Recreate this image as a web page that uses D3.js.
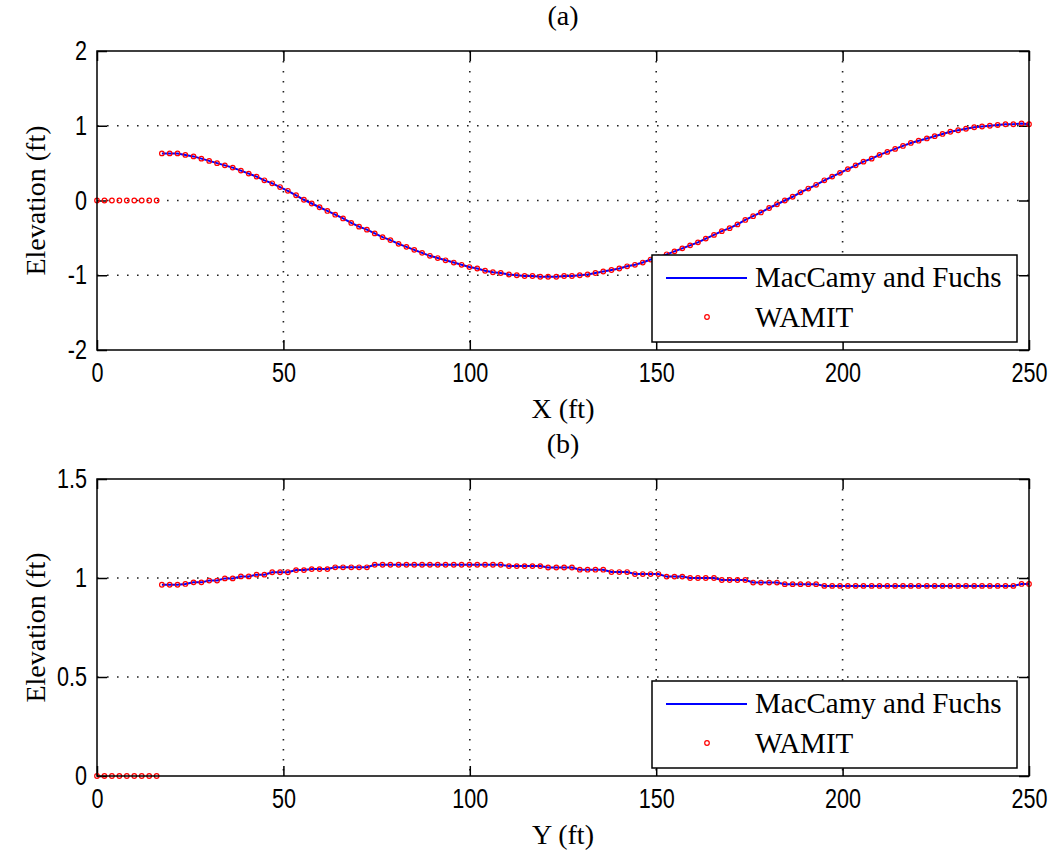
<!DOCTYPE html>
<html><head><meta charset="utf-8">
<script src="https://cdn.jsdelivr.net/npm/d3@7"></script>
<style>body{margin:0;background:#fff}</style>
</head><body><svg id="c" width="1054" height="854"></svg>
<script>
const xTicks=[0,50,100,150,200,250];
const yTicksA=[-2,-1,0,1,2];
const yTicksB=[0,0.5,1,1.5];
const seriesNames=["MacCamy and Fuchs","WAMIT"];
const panelTitles=["(a)","(b)"];
const xLabels=["X (ft)","Y (ft)"];
const yLabel="Elevation (ft)";

// points inside the cylinder (WAMIT only)
const insideX=[0,2,4,6,8,10,12,14,16];
const insideA=[0,0,0,0,0,0,0,0,0];
const insideB=[0,0,0,0,0,0,0,0,0];

// points outside the cylinder
const outerX=[17.4,19.5,21.6,23.7,25.9,28.0,30.1,32.2,34.3,36.4,
38.6,40.7,42.8,44.9,47.0,49.1,51.2,53.4,55.5,57.6,
59.7,61.8,63.9,66.0,68.2,70.3,72.4,74.5,76.6,78.7,
80.9,83.0,85.1,87.2,89.3,91.4,93.5,95.7,97.8,99.9,
102.0,104.1,106.2,108.3,110.5,112.6,114.7,116.8,118.9,121.0,
123.2,125.3,127.4,129.5,131.6,133.7,135.8,138.0,140.1,142.2,
144.3,146.4,148.5,150.6,152.8,154.9,157.0,159.1,161.2,163.3,
165.5,167.6,169.7,171.8,173.9,176.0,178.1,180.3,182.4,184.5,
186.6,188.7,190.8,192.9,195.1,197.2,199.3,201.4,203.5,205.6,
207.8,209.9,212.0,214.1,216.2,218.3,220.4,222.6,224.7,226.8,
228.9,231.0,233.1,235.3,237.4,239.5,241.6,243.7,245.8,248.0,
250.0];

const elevA=[0.63,0.63,0.63,0.61,0.59,0.56,0.53,0.50,0.47,0.44,
0.40,0.36,0.32,0.27,0.23,0.18,0.13,0.07,0.01,-0.04,
-0.09,-0.14,-0.19,-0.24,-0.30,-0.35,-0.39,-0.44,-0.49,-0.53,
-0.58,-0.62,-0.66,-0.70,-0.74,-0.77,-0.80,-0.83,-0.86,-0.89,
-0.91,-0.94,-0.96,-0.97,-0.99,-1.00,-1.01,-1.01,-1.02,-1.02,
-1.02,-1.01,-1.01,-1.00,-0.99,-0.97,-0.95,-0.93,-0.91,-0.88,
-0.86,-0.83,-0.79,-0.76,-0.72,-0.68,-0.64,-0.60,-0.56,-0.51,
-0.46,-0.41,-0.37,-0.32,-0.26,-0.21,-0.16,-0.10,-0.05,0.00,
0.05,0.11,0.16,0.21,0.27,0.32,0.37,0.42,0.47,0.52,
0.56,0.61,0.65,0.69,0.73,0.77,0.80,0.83,0.86,0.89,
0.92,0.94,0.96,0.98,0.99,1.00,1.01,1.02,1.02,1.03,
1.02];

const elevB=[0.966,0.966,0.966,0.970,0.978,0.978,0.987,0.987,0.998,0.998,
1.008,1.008,1.017,1.017,1.029,1.029,1.029,1.040,1.040,1.045,
1.045,1.045,1.054,1.054,1.054,1.054,1.054,1.067,1.067,1.067,
1.067,1.067,1.067,1.067,1.067,1.067,1.067,1.067,1.067,1.067,
1.067,1.067,1.067,1.067,1.060,1.060,1.060,1.060,1.060,1.053,
1.053,1.053,1.053,1.042,1.042,1.042,1.042,1.030,1.030,1.030,
1.020,1.020,1.020,1.020,1.007,1.007,1.007,1.000,1.000,1.000,
1.000,0.990,0.990,0.990,0.990,0.977,0.977,0.977,0.977,0.969,
0.969,0.969,0.969,0.969,0.960,0.960,0.960,0.960,0.960,0.960,
0.960,0.960,0.960,0.960,0.960,0.960,0.960,0.960,0.960,0.960,
0.960,0.960,0.960,0.960,0.960,0.960,0.960,0.960,0.960,0.970,
0.970];

const svg=d3.select("#c");
svg.append("rect").attr("width",1054).attr("height",854).attr("fill","#fff");
const L=97,R=1029;
const x=d3.scaleLinear().domain([0,250]).range([L,R]);
const SERIF="'Liberation Serif','Times New Roman',serif";
const SANS="'Liberation Sans',Arial,sans-serif";

function panel(top,bottom,yDomain,yTicks,vals,inside,title,xlab){
  const y=d3.scaleLinear().domain(yDomain).range([bottom,top]);
  const g=svg.append("g");
  const gridStyle=s=>s.attr("stroke","#222").attr("stroke-width",1.6).attr("stroke-dasharray","1.6,8.4");
  g.selectAll(null).data(xTicks.filter(t=>t>xTicks[0]&&t<xTicks[xTicks.length-1])).join("line")
    .attr("x1",d=>x(d)).attr("x2",d=>x(d)).attr("y1",top).attr("y2",bottom).call(gridStyle);
  g.selectAll(null).data(yTicks.filter(t=>t>yDomain[0]&&t<yDomain[1])).join("line")
    .attr("x1",L).attr("x2",R).attr("y1",d=>y(d)).attr("y2",d=>y(d)).call(gridStyle);

  // axes (ticks inside, MATLAB style)
  const fmt=d=>String(d);
  const styleAxis=a=>{
    a.select(".domain").remove();
    a.selectAll(".tick line").attr("stroke","#000").attr("stroke-width",1.5);
    a.attr("font-family",SANS).attr("font-size",27);
    a.selectAll("text").attr("fill","#000");
  };
  const bx=g.append("g").attr("transform",`translate(0,${bottom})`)
    .call(d3.axisBottom(x).tickValues(xTicks).tickSize(-10).tickPadding(13).tickFormat(fmt)).call(styleAxis);
  bx.selectAll("text").attr("transform","scale(0.8,1)");
  const ly=g.append("g").attr("transform",`translate(${L},0)`)
    .call(d3.axisLeft(y).tickValues(yTicks).tickSize(-10).tickPadding(10).tickFormat(fmt)).call(styleAxis);
  ly.selectAll("text").attr("x",-12.5).attr("transform","scale(0.8,1)");
  g.append("g").attr("transform",`translate(0,${top})`)
    .call(d3.axisTop(x).tickValues(xTicks).tickSize(-10).tickFormat("")).call(styleAxis);
  g.append("g").attr("transform",`translate(${R},0)`)
    .call(d3.axisRight(y).tickValues(yTicks).tickSize(-10).tickFormat("")).call(styleAxis);

  // data line
  const idx=d3.range(outerX.length);
  g.append("path").datum(idx)
    .attr("d",d3.line().x(i=>x(outerX[i])).y(i=>y(vals[i])))
    .attr("fill","none").attr("stroke","#0000ff").attr("stroke-width",2);
  // WAMIT markers
  const mk=s=>s.attr("r",2.3).attr("fill","none").attr("stroke","#ff0000").attr("stroke-width",1.2);
  g.selectAll(null).data(idx).join("circle")
    .attr("cx",i=>x(outerX[i])).attr("cy",i=>y(vals[i])).call(mk);
  g.selectAll(null).data(d3.range(insideX.length)).join("circle")
    .attr("cx",i=>x(insideX[i])).attr("cy",i=>y(inside[i])).call(mk);

  // box
  g.append("rect").attr("x",L).attr("y",top).attr("width",R-L).attr("height",bottom-top)
    .attr("fill","none").attr("stroke","#000").attr("stroke-width",1.5);

  // legend
  const lt=bottom-95;
  const lg=g.append("g");
  lg.append("rect").attr("x",652).attr("y",lt).attr("width",365).attr("height",87)
    .attr("fill","#fff").attr("stroke","#000").attr("stroke-width",1.5);
  lg.append("line").attr("x1",666).attr("x2",747).attr("y1",lt+23).attr("y2",lt+23)
    .attr("stroke","#0000ff").attr("stroke-width",2);
  lg.append("circle").attr("cx",707).attr("cy",lt+62).call(mk);
  lg.selectAll("text").data(seriesNames).join("text")
    .attr("x",755).attr("y",(d,i)=>lt+32+i*40)
    .attr("font-family",SERIF).attr("font-size",29).attr("fill","#000").text(d=>d);

  // labels
  g.append("text").attr("x",(L+R)/2).attr("y",top-26).attr("text-anchor","middle")
    .attr("font-family",SERIF).attr("font-size",28).text(title);
  g.append("text").attr("x",(L+R)/2).attr("y",bottom+68).attr("text-anchor","middle")
    .attr("font-family",SERIF).attr("font-size",28).text(xlab);
  g.append("text").attr("transform",`translate(45,${(top+bottom)/2}) rotate(-90)`).attr("text-anchor","middle")
    .attr("font-family",SERIF).attr("font-size",28).text(yLabel);
}

panel(51,350,[-2,2],yTicksA,elevA,insideA,panelTitles[0],xLabels[0]);
panel(479,776,[0,1.5],yTicksB,elevB,insideB,panelTitles[1],xLabels[1]);
</script></body></html>
